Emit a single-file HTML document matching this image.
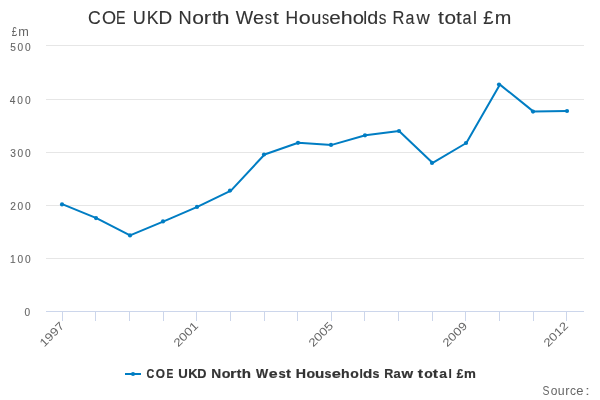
<!DOCTYPE html>
<html><head><meta charset="utf-8"><style>
html,body{margin:0;padding:0;background:#fff;width:600px;height:400px;overflow:hidden}
svg{display:block;will-change:transform;font-family:"Liberation Sans",sans-serif}
</style></head><body>
<svg width="600" height="400" viewBox="0 0 600 400">
<rect x="0" y="0" width="600" height="400" fill="#ffffff"/>
<path d="M46 45.5 L584 45.5" stroke="#e6e6e6" stroke-width="1" fill="none"/>
<path d="M46 99.5 L584 99.5" stroke="#e6e6e6" stroke-width="1" fill="none"/>
<path d="M46 152.5 L584 152.5" stroke="#e6e6e6" stroke-width="1" fill="none"/>
<path d="M46 205.5 L584 205.5" stroke="#e6e6e6" stroke-width="1" fill="none"/>
<path d="M46 258.5 L584 258.5" stroke="#e6e6e6" stroke-width="1" fill="none"/>
<path d="M46 311.5 L584 311.5" stroke="#ccd6eb" stroke-width="1" fill="none"/>
<path d="M62.5 311 L62.5 321" stroke="#ccd6eb" stroke-width="1" fill="none"/>
<path d="M95.5 311 L95.5 321" stroke="#ccd6eb" stroke-width="1" fill="none"/>
<path d="M129.5 311 L129.5 321" stroke="#ccd6eb" stroke-width="1" fill="none"/>
<path d="M163.5 311 L163.5 321" stroke="#ccd6eb" stroke-width="1" fill="none"/>
<path d="M196.5 311 L196.5 321" stroke="#ccd6eb" stroke-width="1" fill="none"/>
<path d="M230.5 311 L230.5 321" stroke="#ccd6eb" stroke-width="1" fill="none"/>
<path d="M264.5 311 L264.5 321" stroke="#ccd6eb" stroke-width="1" fill="none"/>
<path d="M297.5 311 L297.5 321" stroke="#ccd6eb" stroke-width="1" fill="none"/>
<path d="M331.5 311 L331.5 321" stroke="#ccd6eb" stroke-width="1" fill="none"/>
<path d="M364.5 311 L364.5 321" stroke="#ccd6eb" stroke-width="1" fill="none"/>
<path d="M398.5 311 L398.5 321" stroke="#ccd6eb" stroke-width="1" fill="none"/>
<path d="M432.5 311 L432.5 321" stroke="#ccd6eb" stroke-width="1" fill="none"/>
<path d="M465.5 311 L465.5 321" stroke="#ccd6eb" stroke-width="1" fill="none"/>
<path d="M499.5 311 L499.5 321" stroke="#ccd6eb" stroke-width="1" fill="none"/>
<path d="M533.5 311 L533.5 321" stroke="#ccd6eb" stroke-width="1" fill="none"/>
<path d="M566.5 311 L566.5 321" stroke="#ccd6eb" stroke-width="1" fill="none"/>
<polyline points="62.81,204.40 96.44,218.10 130.06,235.40 163.69,221.40 197.31,206.90 230.94,190.60 264.56,154.50 298.19,142.80 331.81,144.90 365.44,135.30 399.06,131.00 432.69,162.90 466.31,143.00 499.94,84.60 533.56,111.60 567.19,111.00" stroke="#007dc3" stroke-width="2" fill="none" stroke-linejoin="round" stroke-linecap="round"/>
<circle cx="62.00" cy="204.40" r="2.1" fill="#007dc3"/>
<circle cx="96.00" cy="218.10" r="2.1" fill="#007dc3"/>
<circle cx="130.00" cy="235.40" r="2.1" fill="#007dc3"/>
<circle cx="163.00" cy="221.40" r="2.1" fill="#007dc3"/>
<circle cx="197.00" cy="206.90" r="2.1" fill="#007dc3"/>
<circle cx="230.00" cy="190.60" r="2.1" fill="#007dc3"/>
<circle cx="264.00" cy="154.50" r="2.1" fill="#007dc3"/>
<circle cx="298.00" cy="142.80" r="2.1" fill="#007dc3"/>
<circle cx="331.00" cy="144.90" r="2.1" fill="#007dc3"/>
<circle cx="365.00" cy="135.30" r="2.1" fill="#007dc3"/>
<circle cx="399.00" cy="131.00" r="2.1" fill="#007dc3"/>
<circle cx="432.00" cy="162.90" r="2.1" fill="#007dc3"/>
<circle cx="466.00" cy="143.00" r="2.1" fill="#007dc3"/>
<circle cx="499.00" cy="84.60" r="2.1" fill="#007dc3"/>
<circle cx="533.00" cy="111.60" r="2.1" fill="#007dc3"/>
<circle cx="567.00" cy="111.00" r="2.1" fill="#007dc3"/>
<text x="88.05" y="24.0" font-size="17.6" font-weight="normal" fill="#333333" textLength="12.72" lengthAdjust="spacingAndGlyphs" stroke="#333333" stroke-width="0.12">C</text>
<text x="102.08" y="24.0" font-size="17.6" font-weight="normal" fill="#333333" textLength="14.09" lengthAdjust="spacingAndGlyphs" stroke="#333333" stroke-width="0.12">O</text>
<text x="116.08" y="24.0" font-size="17.6" font-weight="normal" fill="#333333" textLength="9.52" lengthAdjust="spacingAndGlyphs" stroke="#333333" stroke-width="0.12">E</text>
<text x="132.67" y="24.0" font-size="17.6" font-weight="normal" fill="#333333" textLength="13.04" lengthAdjust="spacingAndGlyphs" stroke="#333333" stroke-width="0.12">U</text>
<text x="146.68" y="24.0" font-size="17.6" font-weight="normal" fill="#333333" textLength="11.87" lengthAdjust="spacingAndGlyphs" stroke="#333333" stroke-width="0.12">K</text>
<text x="158.59" y="24.0" font-size="17.6" font-weight="normal" fill="#333333" textLength="13.65" lengthAdjust="spacingAndGlyphs" stroke="#333333" stroke-width="0.12">D</text>
<text x="178.55" y="24.0" font-size="17.6" font-weight="normal" fill="#333333" textLength="13.18" lengthAdjust="spacingAndGlyphs" stroke="#333333" stroke-width="0.12">N</text>
<text x="192.15" y="24.0" font-size="17.6" font-weight="normal" fill="#333333" textLength="11.70" lengthAdjust="spacingAndGlyphs" stroke="#333333" stroke-width="0.12">o</text>
<text x="203.84" y="24.0" font-size="17.6" font-weight="normal" fill="#333333" textLength="7.31" lengthAdjust="spacingAndGlyphs" stroke="#333333" stroke-width="0.12">r</text>
<text x="212.01" y="24.0" font-size="17.6" font-weight="normal" fill="#333333" textLength="5.76" lengthAdjust="spacingAndGlyphs" stroke="#333333" stroke-width="0.12">t</text>
<text x="216.77" y="24.0" font-size="17.6" font-weight="normal" fill="#333333" textLength="12.80" lengthAdjust="spacingAndGlyphs" stroke="#333333" stroke-width="0.12">h</text>
<text x="235.84" y="24.0" font-size="17.6" font-weight="normal" fill="#333333" textLength="17.38" lengthAdjust="spacingAndGlyphs" stroke="#333333" stroke-width="0.12">W</text>
<text x="253.10" y="24.0" font-size="17.6" font-weight="normal" fill="#333333" textLength="11.10" lengthAdjust="spacingAndGlyphs" stroke="#333333" stroke-width="0.12">e</text>
<text x="264.79" y="24.0" font-size="17.6" font-weight="normal" fill="#333333" textLength="7.21" lengthAdjust="spacingAndGlyphs" stroke="#333333" stroke-width="0.12">s</text>
<text x="272.79" y="24.0" font-size="17.6" font-weight="normal" fill="#333333" textLength="6.09" lengthAdjust="spacingAndGlyphs" stroke="#333333" stroke-width="0.12">t</text>
<text x="285.61" y="24.0" font-size="17.6" font-weight="normal" fill="#333333" textLength="12.65" lengthAdjust="spacingAndGlyphs" stroke="#333333" stroke-width="0.12">H</text>
<text x="298.88" y="24.0" font-size="17.6" font-weight="normal" fill="#333333" textLength="11.99" lengthAdjust="spacingAndGlyphs" stroke="#333333" stroke-width="0.12">o</text>
<text x="311.32" y="24.0" font-size="17.6" font-weight="normal" fill="#333333" textLength="10.07" lengthAdjust="spacingAndGlyphs" stroke="#333333" stroke-width="0.12">u</text>
<text x="321.89" y="24.0" font-size="17.6" font-weight="normal" fill="#333333" textLength="7.15" lengthAdjust="spacingAndGlyphs" stroke="#333333" stroke-width="0.12">s</text>
<text x="329.22" y="24.0" font-size="17.6" font-weight="normal" fill="#333333" textLength="11.52" lengthAdjust="spacingAndGlyphs" stroke="#333333" stroke-width="0.12">e</text>
<text x="340.78" y="24.0" font-size="17.6" font-weight="normal" fill="#333333" textLength="11.89" lengthAdjust="spacingAndGlyphs" stroke="#333333" stroke-width="0.12">h</text>
<text x="352.84" y="24.0" font-size="17.6" font-weight="normal" fill="#333333" textLength="11.28" lengthAdjust="spacingAndGlyphs" stroke="#333333" stroke-width="0.12">o</text>
<text x="363.15" y="24.0" font-size="17.6" font-weight="normal" fill="#333333" textLength="3.92" lengthAdjust="spacingAndGlyphs" stroke="#333333" stroke-width="0.12">l</text>
<text x="367.26" y="24.0" font-size="17.6" font-weight="normal" fill="#333333" textLength="10.96" lengthAdjust="spacingAndGlyphs" stroke="#333333" stroke-width="0.12">d</text>
<text x="378.86" y="24.0" font-size="17.6" font-weight="normal" fill="#333333" textLength="7.66" lengthAdjust="spacingAndGlyphs" stroke="#333333" stroke-width="0.12">s</text>
<text x="392.50" y="24.0" font-size="17.6" font-weight="normal" fill="#333333" textLength="11.91" lengthAdjust="spacingAndGlyphs" stroke="#333333" stroke-width="0.12">R</text>
<text x="405.42" y="24.0" font-size="17.6" font-weight="normal" fill="#333333" textLength="8.93" lengthAdjust="spacingAndGlyphs" stroke="#333333" stroke-width="0.12">a</text>
<text x="416.60" y="24.0" font-size="17.6" font-weight="normal" fill="#333333" textLength="13.27" lengthAdjust="spacingAndGlyphs" stroke="#333333" stroke-width="0.12">w</text>
<text x="437.90" y="24.0" font-size="17.6" font-weight="normal" fill="#333333" textLength="5.92" lengthAdjust="spacingAndGlyphs" stroke="#333333" stroke-width="0.12">t</text>
<text x="444.41" y="24.0" font-size="17.6" font-weight="normal" fill="#333333" textLength="11.58" lengthAdjust="spacingAndGlyphs" stroke="#333333" stroke-width="0.12">o</text>
<text x="456.06" y="24.0" font-size="17.6" font-weight="normal" fill="#333333" textLength="5.76" lengthAdjust="spacingAndGlyphs" stroke="#333333" stroke-width="0.12">t</text>
<text x="462.41" y="24.0" font-size="17.6" font-weight="normal" fill="#333333" textLength="9.03" lengthAdjust="spacingAndGlyphs" stroke="#333333" stroke-width="0.12">a</text>
<text x="473.05" y="24.0" font-size="17.6" font-weight="normal" fill="#333333" textLength="3.92" lengthAdjust="spacingAndGlyphs" stroke="#333333" stroke-width="0.12">l</text>
<text x="483.28" y="24.0" font-size="17.6" font-weight="normal" fill="#333333" textLength="10.23" lengthAdjust="spacingAndGlyphs" stroke="#333333" stroke-width="0.12">£</text>
<text x="494.79" y="24.0" font-size="17.6" font-weight="normal" fill="#333333" textLength="16.57" lengthAdjust="spacingAndGlyphs" stroke="#333333" stroke-width="0.12">m</text>
<g transform="translate(11.75,36) scale(1.0,1)"><text x="0" y="0" font-size="12.0" font-weight="normal" fill="#666666" textLength="5.30" lengthAdjust="spacingAndGlyphs">£</text></g>
<g transform="translate(18.15,36) scale(1.0,1)"><text x="0" y="0" font-size="12.0" font-weight="normal" fill="#666666" textLength="10.59" lengthAdjust="spacingAndGlyphs">m</text></g>
<g transform="translate(10.20,50.9) scale(0.9,1)"><text x="0" y="0" font-size="11.3" font-weight="normal" fill="#666666" textLength="22.62" lengthAdjust="spacing" stroke="#666666" stroke-width="0.12">500</text></g>
<g transform="translate(9.65,104) scale(0.9,1)"><text x="0" y="0" font-size="11.3" font-weight="normal" fill="#666666" textLength="23.23" lengthAdjust="spacing" stroke="#666666" stroke-width="0.12">400</text></g>
<g transform="translate(10.35,157) scale(0.9,1)"><text x="0" y="0" font-size="11.3" font-weight="normal" fill="#666666" textLength="22.45" lengthAdjust="spacing" stroke="#666666" stroke-width="0.12">300</text></g>
<g transform="translate(10.35,210) scale(0.9,1)"><text x="0" y="0" font-size="11.3" font-weight="normal" fill="#666666" textLength="22.45" lengthAdjust="spacing" stroke="#666666" stroke-width="0.12">200</text></g>
<g transform="translate(10.10,263) scale(0.9,1)"><text x="0" y="0" font-size="11.3" font-weight="normal" fill="#666666" textLength="22.73" lengthAdjust="spacing" stroke="#666666" stroke-width="0.12">100</text></g>
<g transform="translate(24.50,316) scale(0.9,1)"><text x="0" y="0" font-size="11.3" font-weight="normal" fill="#666666" stroke="#666666" stroke-width="0.12">0</text></g>
<text x="0" y="0" text-anchor="end" font-size="11.3" fill="#666666" transform="translate(65.0,326.6) rotate(-45)" textLength="29.5" lengthAdjust="spacingAndGlyphs">1997</text>
<text x="0" y="0" text-anchor="end" font-size="11.3" fill="#666666" transform="translate(199.0,326.6) rotate(-45)" textLength="29.5" lengthAdjust="spacingAndGlyphs">2001</text>
<text x="0" y="0" text-anchor="end" font-size="11.3" fill="#666666" transform="translate(334.0,326.6) rotate(-45)" textLength="29.5" lengthAdjust="spacingAndGlyphs">2005</text>
<text x="0" y="0" text-anchor="end" font-size="11.3" fill="#666666" transform="translate(468.0,326.6) rotate(-45)" textLength="29.5" lengthAdjust="spacingAndGlyphs">2009</text>
<text x="0" y="0" text-anchor="end" font-size="11.3" fill="#666666" transform="translate(569.0,326.6) rotate(-45)" textLength="29.5" lengthAdjust="spacingAndGlyphs">2012</text>
<path d="M125 374 L141 374" stroke="#007dc3" stroke-width="2" fill="none"/>
<circle cx="133" cy="374" r="2.1" fill="#007dc3"/>
<text x="146.60" y="377.8" font-size="12.1" font-weight="bold" fill="#333333" textLength="7.78" lengthAdjust="spacingAndGlyphs" stroke="#333333" stroke-width="0.2">C</text>
<text x="155.66" y="377.8" font-size="12.1" font-weight="bold" fill="#333333" textLength="9.20" lengthAdjust="spacingAndGlyphs" stroke="#333333" stroke-width="0.2">O</text>
<text x="166.62" y="377.8" font-size="12.1" font-weight="bold" fill="#333333" textLength="6.82" lengthAdjust="spacingAndGlyphs" stroke="#333333" stroke-width="0.2">E</text>
<text x="178.23" y="377.8" font-size="12.1" font-weight="bold" fill="#333333" textLength="9.52" lengthAdjust="spacingAndGlyphs" stroke="#333333" stroke-width="0.2">U</text>
<text x="188.15" y="377.8" font-size="12.1" font-weight="bold" fill="#333333" textLength="9.35" lengthAdjust="spacingAndGlyphs" stroke="#333333" stroke-width="0.2">K</text>
<text x="197.26" y="377.8" font-size="12.1" font-weight="bold" fill="#333333" textLength="9.20" lengthAdjust="spacingAndGlyphs" stroke="#333333" stroke-width="0.2">D</text>
<text x="211.20" y="377.8" font-size="12.1" font-weight="bold" fill="#333333" textLength="9.88" lengthAdjust="spacingAndGlyphs" stroke="#333333" stroke-width="0.2">N</text>
<text x="221.66" y="377.8" font-size="12.1" font-weight="bold" fill="#333333" textLength="8.76" lengthAdjust="spacingAndGlyphs" stroke="#333333" stroke-width="0.2">o</text>
<text x="230.13" y="377.8" font-size="12.1" font-weight="bold" fill="#333333" textLength="6.42" lengthAdjust="spacingAndGlyphs" stroke="#333333" stroke-width="0.2">r</text>
<text x="236.66" y="377.8" font-size="12.1" font-weight="bold" fill="#333333" textLength="4.62" lengthAdjust="spacingAndGlyphs" stroke="#333333" stroke-width="0.2">t</text>
<text x="241.81" y="377.8" font-size="12.1" font-weight="bold" fill="#333333" textLength="9.24" lengthAdjust="spacingAndGlyphs" stroke="#333333" stroke-width="0.2">h</text>
<text x="255.95" y="377.8" font-size="12.1" font-weight="bold" fill="#333333" textLength="12.18" lengthAdjust="spacingAndGlyphs" stroke="#333333" stroke-width="0.2">W</text>
<text x="268.69" y="377.8" font-size="12.1" font-weight="bold" fill="#333333" textLength="8.90" lengthAdjust="spacingAndGlyphs" stroke="#333333" stroke-width="0.2">e</text>
<text x="278.51" y="377.8" font-size="12.1" font-weight="bold" fill="#333333" textLength="7.26" lengthAdjust="spacingAndGlyphs" stroke="#333333" stroke-width="0.2">s</text>
<text x="286.04" y="377.8" font-size="12.1" font-weight="bold" fill="#333333" textLength="4.94" lengthAdjust="spacingAndGlyphs" stroke="#333333" stroke-width="0.2">t</text>
<text x="295.87" y="377.8" font-size="12.1" font-weight="bold" fill="#333333" textLength="10.24" lengthAdjust="spacingAndGlyphs" stroke="#333333" stroke-width="0.2">H</text>
<text x="306.47" y="377.8" font-size="12.1" font-weight="bold" fill="#333333" textLength="8.64" lengthAdjust="spacingAndGlyphs" stroke="#333333" stroke-width="0.2">o</text>
<text x="315.11" y="377.8" font-size="12.1" font-weight="bold" fill="#333333" textLength="9.25" lengthAdjust="spacingAndGlyphs" stroke="#333333" stroke-width="0.2">u</text>
<text x="324.54" y="377.8" font-size="12.1" font-weight="bold" fill="#333333" textLength="6.91" lengthAdjust="spacingAndGlyphs" stroke="#333333" stroke-width="0.2">s</text>
<text x="331.67" y="377.8" font-size="12.1" font-weight="bold" fill="#333333" textLength="9.14" lengthAdjust="spacingAndGlyphs" stroke="#333333" stroke-width="0.2">e</text>
<text x="341.07" y="377.8" font-size="12.1" font-weight="bold" fill="#333333" textLength="8.62" lengthAdjust="spacingAndGlyphs" stroke="#333333" stroke-width="0.2">h</text>
<text x="350.17" y="377.8" font-size="12.1" font-weight="bold" fill="#333333" textLength="8.53" lengthAdjust="spacingAndGlyphs" stroke="#333333" stroke-width="0.2">o</text>
<text x="359.38" y="377.8" font-size="12.1" font-weight="bold" fill="#333333" textLength="3.38" lengthAdjust="spacingAndGlyphs" stroke="#333333" stroke-width="0.2">l</text>
<text x="363.12" y="377.8" font-size="12.1" font-weight="bold" fill="#333333" textLength="9.24" lengthAdjust="spacingAndGlyphs" stroke="#333333" stroke-width="0.2">d</text>
<text x="372.54" y="377.8" font-size="12.1" font-weight="bold" fill="#333333" textLength="6.91" lengthAdjust="spacingAndGlyphs" stroke="#333333" stroke-width="0.2">s</text>
<text x="384.18" y="377.8" font-size="12.1" font-weight="bold" fill="#333333" textLength="9.02" lengthAdjust="spacingAndGlyphs" stroke="#333333" stroke-width="0.2">R</text>
<text x="393.41" y="377.8" font-size="12.1" font-weight="bold" fill="#333333" textLength="7.22" lengthAdjust="spacingAndGlyphs" stroke="#333333" stroke-width="0.2">a</text>
<text x="401.55" y="377.8" font-size="12.1" font-weight="bold" fill="#333333" textLength="11.61" lengthAdjust="spacingAndGlyphs" stroke="#333333" stroke-width="0.2">w</text>
<text x="417.72" y="377.8" font-size="12.1" font-weight="bold" fill="#333333" textLength="5.27" lengthAdjust="spacingAndGlyphs" stroke="#333333" stroke-width="0.2">t</text>
<text x="424.17" y="377.8" font-size="12.1" font-weight="bold" fill="#333333" textLength="8.53" lengthAdjust="spacingAndGlyphs" stroke="#333333" stroke-width="0.2">o</text>
<text x="432.72" y="377.8" font-size="12.1" font-weight="bold" fill="#333333" textLength="5.27" lengthAdjust="spacingAndGlyphs" stroke="#333333" stroke-width="0.2">t</text>
<text x="439.17" y="377.8" font-size="12.1" font-weight="bold" fill="#333333" textLength="7.76" lengthAdjust="spacingAndGlyphs" stroke="#333333" stroke-width="0.2">a</text>
<text x="448.48" y="377.8" font-size="12.1" font-weight="bold" fill="#333333" textLength="3.38" lengthAdjust="spacingAndGlyphs" stroke="#333333" stroke-width="0.2">l</text>
<text x="456.71" y="377.8" font-size="12.1" font-weight="bold" fill="#333333" textLength="6.57" lengthAdjust="spacingAndGlyphs" stroke="#333333" stroke-width="0.2">£</text>
<text x="463.92" y="377.8" font-size="12.1" font-weight="bold" fill="#333333" textLength="11.87" lengthAdjust="spacingAndGlyphs" stroke="#333333" stroke-width="0.2">m</text>
<g transform="translate(542.40,394.8) scale(1.0,1)"><text x="0" y="0" font-size="12.0" font-weight="normal" fill="#666666" textLength="6.96" lengthAdjust="spacingAndGlyphs">S</text></g>
<g transform="translate(550.75,394.8) scale(1.0,1)"><text x="0" y="0" font-size="12.0" font-weight="normal" fill="#666666" textLength="6.69" lengthAdjust="spacingAndGlyphs">o</text></g>
<g transform="translate(557.85,394.8) scale(1.0,1)"><text x="0" y="0" font-size="12.0" font-weight="normal" fill="#666666" textLength="6.88" lengthAdjust="spacingAndGlyphs">u</text></g>
<g transform="translate(565.25,394.8) scale(1.0,1)"><text x="0" y="0" font-size="12.0" font-weight="normal" fill="#666666" textLength="4.27" lengthAdjust="spacingAndGlyphs">r</text></g>
<g transform="translate(569.90,394.8) scale(1.0,1)"><text x="0" y="0" font-size="12.0" font-weight="normal" fill="#666666" textLength="6.00" lengthAdjust="spacingAndGlyphs">c</text></g>
<g transform="translate(576.20,394.8) scale(1.0,1)"><text x="0" y="0" font-size="12.0" font-weight="normal" fill="#666666" textLength="7.23" lengthAdjust="spacingAndGlyphs">e</text></g>
<g transform="translate(585.20,394.8) scale(1.0,1)"><text x="0" y="0" font-size="12.0" font-weight="normal" fill="#666666" textLength="4.42" lengthAdjust="spacingAndGlyphs">:</text></g>
</svg>
</body></html>
